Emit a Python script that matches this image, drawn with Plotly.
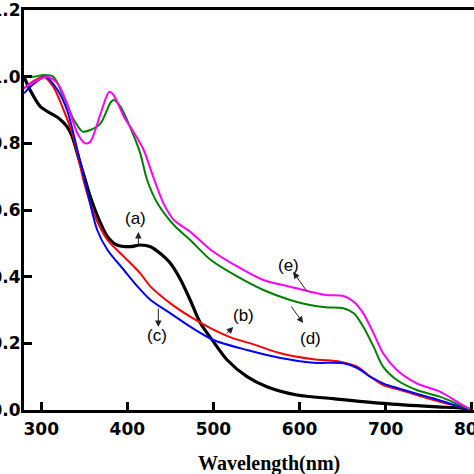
import plotly.graph_objects as go

# ---- data ----
wl_a = [280, 287, 299, 311, 320, 330, 336, 343, 350, 357, 369, 377, 388, 403, 415, 427, 438, 450, 462, 473, 485, 500, 516, 539, 562, 597, 639, 697, 755, 790, 800]
abs_a = [1.0, 0.96, 0.91, 0.89, 0.876, 0.85, 0.82, 0.76, 0.70, 0.64, 0.56, 0.52, 0.495, 0.49, 0.495, 0.49, 0.47, 0.44, 0.39, 0.33, 0.26, 0.205, 0.15, 0.10, 0.07, 0.045, 0.034, 0.02, 0.01, 0.005, 0.0]

wl_b = [280, 290, 303, 314, 326, 336, 342, 349, 361, 377, 396, 415, 427, 450, 473, 497, 523, 543, 578, 616, 647, 667, 682, 697, 717, 736, 763, 786, 800]
abs_b = [0.965, 0.985, 1.0, 0.97, 0.9, 0.83, 0.77, 0.69, 0.59, 0.51, 0.46, 0.41, 0.37, 0.32, 0.28, 0.245, 0.215, 0.20, 0.17, 0.152, 0.145, 0.13, 0.10, 0.075, 0.06, 0.045, 0.025, 0.01, 0.0]

wl_c = [280, 292, 305, 319, 330, 342, 354, 365, 377, 396, 412, 427, 450, 473, 500, 539, 578, 616, 651, 667, 682, 697, 717, 755, 786, 800]
abs_c = [0.95, 0.98, 1.0, 0.96, 0.9, 0.78, 0.65, 0.54, 0.48, 0.42, 0.37, 0.33, 0.29, 0.25, 0.21, 0.18, 0.156, 0.142, 0.14, 0.126, 0.10, 0.08, 0.063, 0.035, 0.01, 0.0]

wl_d = [280, 292, 303, 314, 326, 338, 348, 357, 369, 380, 384, 392, 403, 415, 423, 435, 454, 473, 497, 528, 558, 589, 612, 630, 651, 663, 674, 686, 697, 713, 736, 763, 786, 800]
abs_d = [1.0, 1.0, 1.005, 1.0, 0.94, 0.87, 0.835, 0.84, 0.86, 0.92, 0.93, 0.91, 0.85, 0.77, 0.69, 0.62, 0.555, 0.51, 0.45, 0.40, 0.36, 0.33, 0.315, 0.308, 0.305, 0.29, 0.25, 0.19, 0.13, 0.09, 0.06, 0.04, 0.015, 0.0]

wl_e = [280, 292, 307, 319, 330, 342, 351, 357, 369, 379, 384, 396, 407, 419, 430, 442, 454, 473, 497, 528, 558, 589, 612, 630, 651, 663, 674, 686, 697, 713, 736, 763, 786, 800]
abs_e = [0.965, 0.985, 1.0, 0.98, 0.92, 0.83, 0.80, 0.805, 0.89, 0.955, 0.945, 0.88, 0.835, 0.78, 0.70, 0.62, 0.57, 0.535, 0.48, 0.43, 0.39, 0.37, 0.355, 0.345, 0.342, 0.325, 0.29, 0.23, 0.17, 0.12, 0.08, 0.055, 0.02, 0.0]

x_ticks = [300, 400, 500, 600, 700, 800]
y_ticks = [0.0, 0.2, 0.4, 0.6, 0.8, 1.0, 1.2]
x_title = "Wavelength(nm)"

# label: (text, tip_wl, tip_abs, tail_dx, tail_dy, text_wl, text_abs)
labels = [
    ("(a)", 412.8, 0.534, 0, 14, 409.4, 0.576),
    ("(b)", 523.0, 0.249, -8, 8, 534.6, 0.285),
    ("(c)", 436.0, 0.249, 0, -20, 434.9, 0.225),
    ("(d)", 604.2, 0.261, -13, -18, 612.4, 0.216),
    ("(e)", 592.6, 0.414, 15, 21, 586.8, 0.435),
]

series = [
    (wl_a, abs_a, "#000000", 3.2),
    (wl_b, abs_b, "#ff0000", 2),
    (wl_c, abs_c, "#0000ff", 2),
    (wl_d, abs_d, "#008000", 2),
    (wl_e, abs_e, "#ff00ff", 2),
]

fig = go.Figure()
for wl, ab, col, w in series:
    fig.add_trace(go.Scatter(x=wl, y=ab, mode="lines",
                             line=dict(color=col, width=w, shape="spline", smoothing=0.8),
                             showlegend=False, hoverinfo="skip"))

annotations = []
for txt, tx, ty, dx, dy, lx, ly in labels:
    annotations.append(dict(x=tx, y=ty, xref="x", yref="y", text="", showarrow=True,
                            ax=dx, ay=dy, arrowhead=2, arrowsize=1.3, arrowwidth=1,
                            arrowcolor="#222222"))
    annotations.append(dict(x=lx, y=ly, xref="x", yref="y", text=txt, showarrow=False,
                            font=dict(family="Liberation Sans, Arial", size=17, color="#000000"),
                            xanchor="center", yanchor="middle"))
annotations.append(dict(x=0.545, y=-0.1325, xref="paper", yref="paper", text="<b>%s</b>" % x_title,
                        showarrow=False, xanchor="center", yanchor="middle",
                        font=dict(family="Liberation Serif, Times New Roman", size=20, color="#000000")))

tickfont = dict(family="DejaVu Sans", size=17, color="#000000", weight="bold")

fig.update_layout(
    width=474, height=474,
    margin=dict(l=23.5, r=0, t=10, b=64, pad=0),
    paper_bgcolor="white", plot_bgcolor="white",
    annotations=annotations,
    xaxis=dict(range=[280, 802.6], tickvals=x_ticks, ticktext=[str(v) for v in x_ticks],
               ticks="inside", ticklen=8, tickwidth=2.5, tickcolor="black",
               showline=True, linewidth=3, linecolor="black", mirror=True,
               showgrid=False, zeroline=False, automargin=False, tickfont=tickfont,
               ticklabelstandoff=2, ticklabeloverflow="allow"),
    yaxis=dict(range=[0, 1.2], tickvals=y_ticks, ticktext=["%.1f" % v for v in y_ticks],
               ticks="inside", ticklen=8, tickwidth=2.5, tickcolor="black",
               showline=True, linewidth=3, linecolor="black", mirror=False,
               showgrid=False, zeroline=False, automargin=False, tickfont=tickfont,
               ticklabelstandoff=-3, ticklabeloverflow="allow"),
)

fig.write_html("out.html", config={"displayModeBar": False},
               post_script="document.body.style.margin='0';")
